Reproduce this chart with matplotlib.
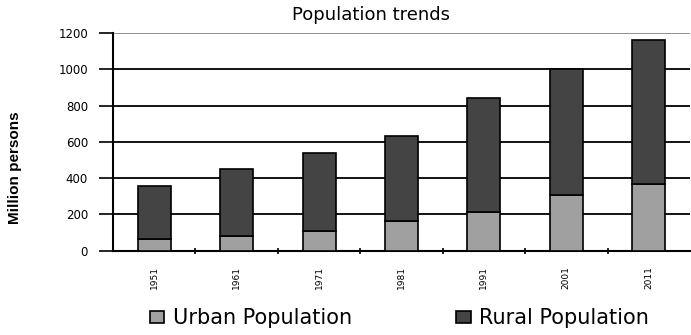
import matplotlib
matplotlib.use("Agg")
import matplotlib.pyplot as plt
import numpy as np

years = ["1951", "1961", "1971", "1981", "1991", "2001", "2011"]
urban = [63, 83, 111, 164, 216, 308, 369]
total = [359, 452, 540, 634, 839, 1003, 1161]
rural = [t - u for t, u in zip(total, urban)]
yticks = [0, 200, 400, 600, 800, 1000, 1200]

fig = plt.figure(figsize=(6.91, 3.35), dpi=100)
ax = fig.add_axes([0.1635, 0.2516, 0.835, 0.65])

x = np.arange(len(years))
ax.bar(x, urban, width=0.4, color="#a0a0a0", edgecolor="black", linewidth=1.2, label="Urban Population", zorder=3)
ax.bar(x, rural, width=0.4, bottom=urban, color="#444444", edgecolor="black", linewidth=1.2, label="Rural Population", zorder=3)

ax.set_xlim(-0.5, len(years) - 0.5)
ax.set_ylim(0, 1200)
ax.set_yticks(yticks)
ax.set_yticklabels([str(v) for v in yticks], fontsize=8.5)
for v in yticks[1:]:
    ax.axhline(v, color="black" if v < 1200 else "#888888", linewidth=1.3, zorder=1)

ax.set_xticks(x)
ax.set_xticklabels(years, rotation=90, fontsize=6.5)
ax.tick_params(axis="x", length=0, pad=11)
ax.set_xticks(np.arange(len(years) - 1) + 0.5, minor=True)
ax.tick_params(axis="x", which="minor", length=4, width=1.2, direction="inout")
ax.tick_params(axis="y", length=10, width=1.2, direction="out", pad=8)

for s in ["top", "right"]:
    ax.spines[s].set_visible(False)
ax.spines["left"].set_linewidth(1.5)
ax.spines["bottom"].set_linewidth(1.5)

fig.text(371 / 691, 1 - 15 / 335, "Population trends", fontsize=13, ha="center", va="center")
fig.text(0.022, 0.5, "Million persons", rotation=90, fontsize=11, fontweight="bold",
         family="Liberation Sans", ha="center", va="center")

fig.legend(loc="center left", bbox_to_anchor=(131 / 691, 1 - 318 / 335), ncol=2, frameon=False,
           fontsize=15, handlelength=0.7, handleheight=0.5, columnspacing=5.0, handletextpad=0.4)

fig.savefig("out.png", dpi=100)
